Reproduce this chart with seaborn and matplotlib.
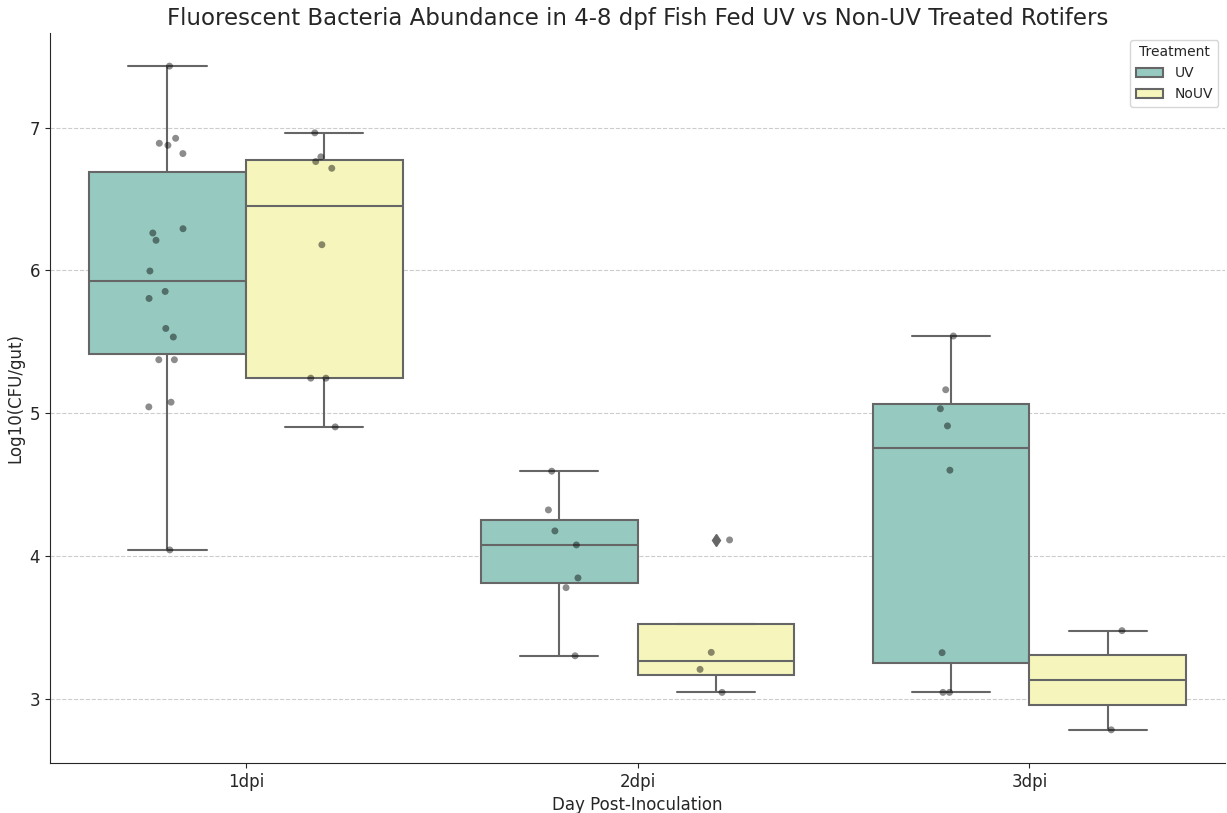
import numpy as np
import pandas as pd
import matplotlib
matplotlib.use("Agg")
import matplotlib.pyplot as plt
import seaborn as sns

# Log10(CFU/gut) per fish, grouped by day post-inoculation and rotifer treatment
days = ["1dpi", "2dpi", "3dpi"]
treatments = ["UV", "NoUV"]

uv_1dpi = [7.43, 6.925, 6.89, 6.876, 6.818, 6.292, 6.262, 6.211, 5.996,
           5.853, 5.804, 5.594, 5.534, 5.375, 5.375, 5.078, 5.045, 4.044]
nouv_1dpi = [6.963, 6.795, 6.762, 6.715, 6.18, 5.246, 5.246, 4.905]
uv_2dpi = [4.595, 4.324, 4.177, 4.079, 3.848, 3.780, 3.303]
nouv_2dpi = [4.114, 3.327, 3.208, 3.047]
uv_3dpi = [5.541, 5.165, 5.032, 4.912, 4.602, 3.325, 3.047, 3.047]
nouv_3dpi = [3.479, 2.785]

groups = {
    ("1dpi", "UV"): uv_1dpi,
    ("1dpi", "NoUV"): nouv_1dpi,
    ("2dpi", "UV"): uv_2dpi,
    ("2dpi", "NoUV"): nouv_2dpi,
    ("3dpi", "UV"): uv_3dpi,
    ("3dpi", "NoUV"): nouv_3dpi,
}

rows = []
for (day, trt), vals in groups.items():
    for v in vals:
        rows.append({"Day": day, "Treatment": trt, "Log10CFU": v})
df = pd.DataFrame(rows)

sns.set_style("ticks")
plt.rcParams["font.family"] = ["DejaVu Sans"]

fig = plt.figure(figsize=(12.27, 8.13), dpi=100)
ax = fig.add_axes([0.0407, 0.0615, 0.958, 0.898])
ax.set_axisbelow(True)
ax.yaxis.grid(True, linestyle="--", color="0.8", linewidth=0.8)

sns.boxplot(
    data=df, x="Day", y="Log10CFU", hue="Treatment",
    order=days, hue_order=treatments, palette="Set3",
    saturation=0.75, linecolor="0.4", linewidth=1.5, gap=0,
    flierprops=dict(marker="d", markerfacecolor="0.4",
                    markeredgecolor="0.4", markersize=6),
    ax=ax,
)

np.random.seed(3)
sns.stripplot(
    data=df, x="Day", y="Log10CFU", hue="Treatment",
    order=days, hue_order=treatments, dodge=True, jitter=True,
    palette=["black", "black"], alpha=0.45, size=5, legend=False, ax=ax,
)

sns.despine(ax=ax)
ax.set_title("Fluorescent Bacteria Abundance in 4-8 dpf Fish Fed UV vs Non-UV Treated Rotifers",
             fontsize=16.5, pad=6)
ax.set_xlabel("Day Post-Inoculation", fontsize=12)
ax.set_ylabel("Log10(CFU/gut)", fontsize=12)
ax.tick_params(axis="both", labelsize=12)
ax.set_yticks([3, 4, 5, 6, 7])

leg = ax.legend(title="Treatment", loc="upper right", fontsize=10, title_fontsize=10)

fig.savefig("out.png", dpi=100)
